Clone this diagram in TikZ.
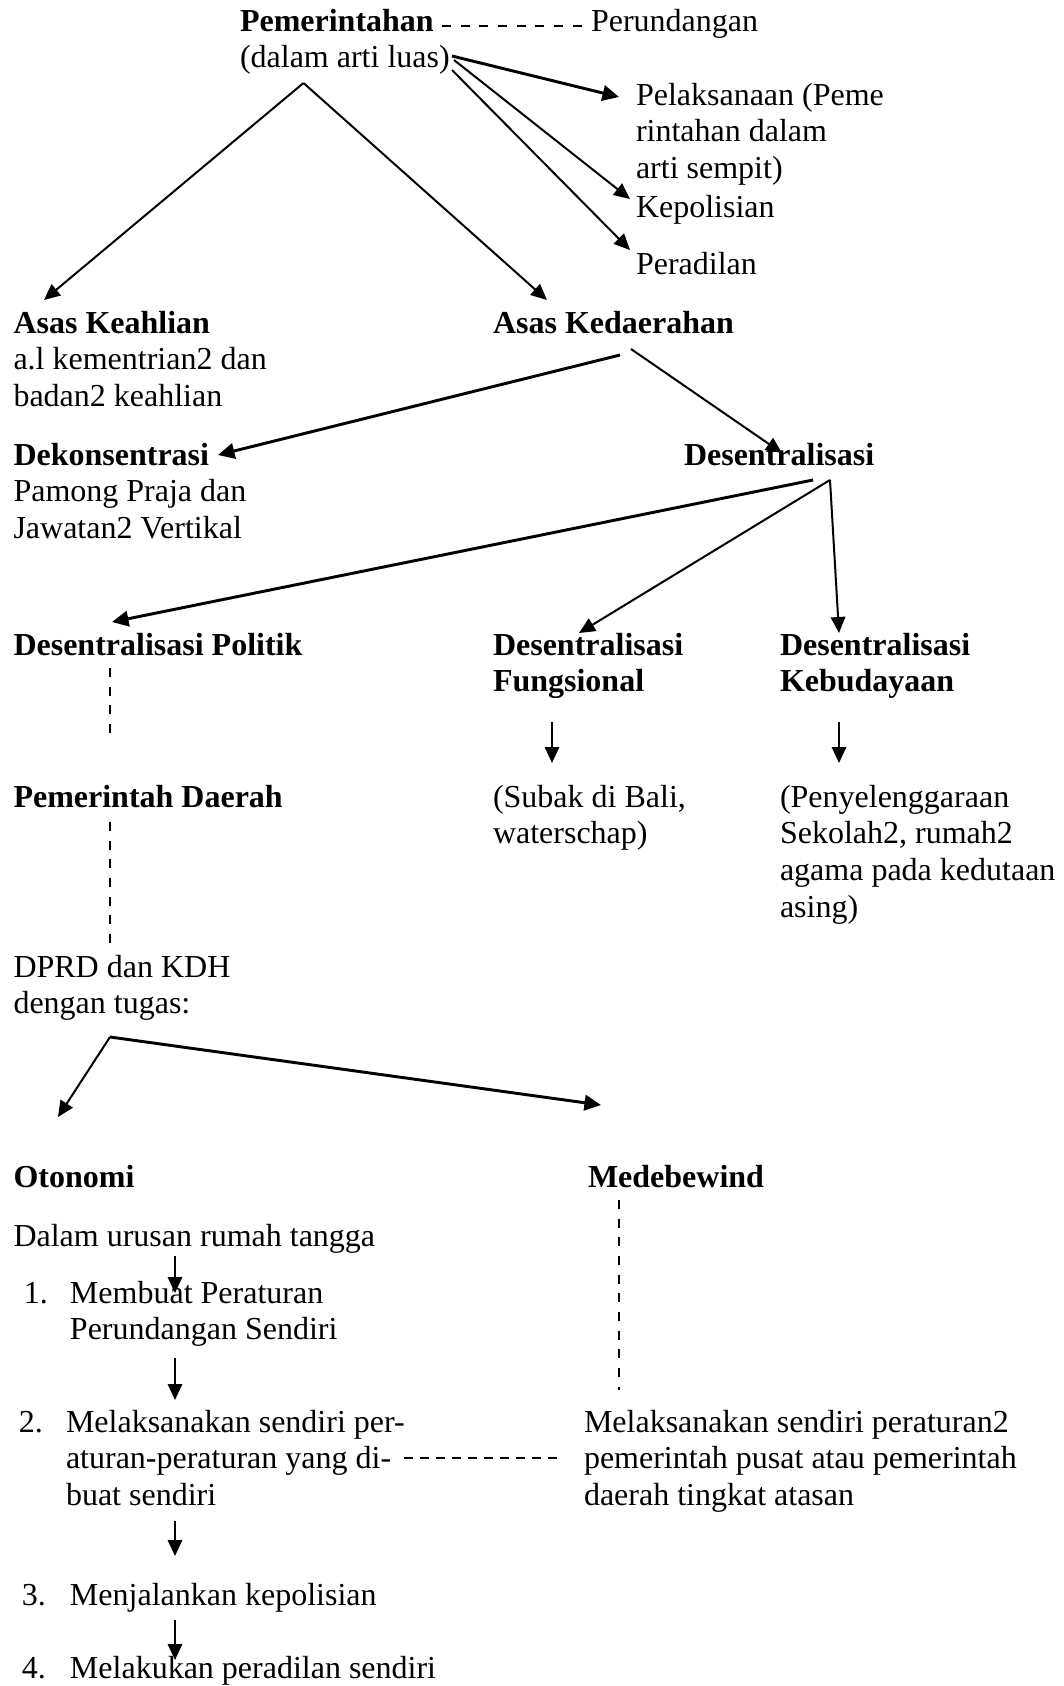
\documentclass[tikz,border=0pt]{standalone}
\usepackage{fontspec}
\setmainfont{Liberation Serif}
\usetikzlibrary{arrows.meta}
\newcommand{\ml}[1]{\begin{tabular}[t]{@{}l@{}}#1\end{tabular}}
\begin{document}
\begin{tikzpicture}[x=0.375pt,y=-0.375pt,
  txt/.style={anchor=base west,inner sep=0pt,outer sep=0pt,font=\fontsize{12}{13.8}\selectfont},
  bt/.style={txt,font=\fontsize{12}{13.8}\selectfont\bfseries},
  arr/.style={line width=0.75pt,-{Triangle[length=6pt,width=5.4pt]}},
  tarr/.style={line width=1.1pt,-{Triangle[length=6.2pt,width=5.8pt]}},
  dsh/.style={line width=0.7pt,dash pattern=on 3.4pt off 3.6pt},
  tdsh/.style={line width=1.1pt,dash pattern=on 3.5pt off 2.5pt}]
\useasboundingbox (0,0) rectangle (1063,1686);
\fill[white] (0,0) rectangle (1063,1686);
% texts
\node[bt] (pem) at (240,31) {Pemerintahan};
\node[txt] (perund) at (591,31) {Perundangan};
\node[txt] (dal) at (240,67) {(dalam arti luas)};
\node[txt] (pel) at (636,105) {\ml{Pelaksanaan (Peme\\rintahan dalam\\arti sempit)}};
\node[txt] (kep) at (636,217) {Kepolisian};
\node[txt] (per) at (636,274) {Peradilan};
\node[txt] (ak) at (13.5,333) {\ml{\textbf{Asas Keahlian}\\a.l kementrian2 dan\\badan2 keahlian}};
\node[bt] (akd) at (493,333) {Asas Kedaerahan};
\node[txt] (dek) at (13.5,465) {\ml{\textbf{Dekonsentrasi}\\Pamong Praja dan\\Jawatan2 Vertikal}};
\node[bt] (des) at (684,465) {Desentralisasi};
\node[bt] (dp) at (13.5,655) {Desentralisasi Politik};
\node[bt] (df) at (493,655) {\ml{Desentralisasi\\Fungsional}};
\node[bt] (dk) at (780,655) {\ml{Desentralisasi\\Kebudayaan}};
\node[bt] (pd) at (13.5,807) {Pemerintah Daerah};
\node[txt] (sub) at (493,807) {\ml{(Subak di Bali,\\waterschap)}};
\node[txt] (peny) at (780,807) {\ml{(Penyelenggaraan\\Sekolah2, rumah2\\agama pada kedutaan\\asing)}};
\node[txt] (dprd) at (13.5,977) {\ml{DPRD dan KDH\\dengan tugas:}};
\node[bt] (oto) at (13.5,1187) {Otonomi};
\node[bt] (med) at (588,1187) {Medebewind};
\node[txt] (dur) at (13.5,1246) {Dalam urusan rumah tangga};
\node[txt] (n1) at (24,1303) {1.};
\node[txt] (t1) at (70,1303) {\ml{Membuat Peraturan\\Perundangan Sendiri}};
\node[txt] (n2) at (19,1432) {2.};
\node[txt] (t2) at (66,1432) {\ml{Melaksanakan sendiri per-\\aturan-peraturan yang di-\\buat sendiri}};
\node[txt] (medt) at (584,1432) {\ml{Melaksanakan sendiri peraturan2\\pemerintah pusat atau pemerintah\\daerah tingkat atasan}};
\node[txt] (n3) at (22,1605) {3.};
\node[txt] (t3) at (70,1605) {Menjalankan kepolisian};
\node[txt] (n4) at (22,1678) {4.};
\node[txt] (t4) at (70,1678) {Melakukan peradilan sendiri};
% coordinates
\coordinate (pemd1) at (442,26);
\coordinate (pemd2) at (583,26);
\coordinate (s1) at (452,56);
\coordinate (e1) at (619,97);
\coordinate (s2) at (454,60);
\coordinate (e2) at (630,199);
\coordinate (s3) at (452,70);
\coordinate (e3) at (630,250);
\coordinate (apx1) at (303.5,83);
\coordinate (e4) at (44,300);
\coordinate (e5) at (547,300);
\coordinate (s6) at (620,355);
\coordinate (e6) at (218,455);
\coordinate (s7) at (631,349);
\coordinate (e7) at (782,453);
\coordinate (s8) at (813,480);
\coordinate (e8) at (112,622);
\coordinate (s9) at (830,480);
\coordinate (e9) at (579,633);
\coordinate (e10) at (839,633);
\coordinate (s11) at (552,722);
\coordinate (e11) at (552,763);
\coordinate (s12) at (839,722);
\coordinate (e12) at (839,763);
\coordinate (d1a) at (110,668);
\coordinate (d1b) at (110,740);
\coordinate (d2a) at (110,822);
\coordinate (d2b) at (110,952);
\coordinate (apx2) at (110,1037);
\coordinate (e13) at (58,1117);
\coordinate (e14) at (601,1105);
\coordinate (d3a) at (619,1200);
\coordinate (d3b) at (619,1390);
\coordinate (s15) at (175,1256);
\coordinate (e15) at (175,1293);
\coordinate (s16) at (175,1358);
\coordinate (e16) at (175,1400);
\coordinate (d4a) at (404,1458);
\coordinate (d4b) at (560,1458);
\coordinate (s17) at (175,1521);
\coordinate (e17) at (175,1556);
\coordinate (s18) at (175,1620);
\coordinate (e18) at (175,1660);
% connectors
\draw[dsh] (pemd1) -- (pemd2);
\draw[tarr] (s1) -- (e1);
\draw[arr] (s2) -- (e2);
\draw[arr] (s3) -- (e3);
\draw[arr] (apx1) -- (e4);
\draw[arr] (apx1) -- (e5);
\draw[tarr] (s6) -- (e6);
\draw[arr] (s7) -- (e7);
\draw[tarr] (s8) -- (e8);
\draw[arr] (s9) -- (e9);
\draw[arr] (s9) -- (e10);
\draw[arr] (s11) -- (e11);
\draw[arr] (s12) -- (e12);
\draw[dsh] (d1a) -- (d1b);
\draw[dsh] (d2a) -- (d2b);
\draw[arr] (apx2) -- (e13);
\draw[tarr] (apx2) -- (e14);
\draw[dsh] (d3a) -- (d3b);
\draw[arr] (s15) -- (e15);
\draw[arr] (s16) -- (e16);
\draw[tdsh] (d4a) -- (d4b);
\draw[arr] (s17) -- (e17);
\draw[arr] (s18) -- (e18);
\end{tikzpicture}
\end{document}
